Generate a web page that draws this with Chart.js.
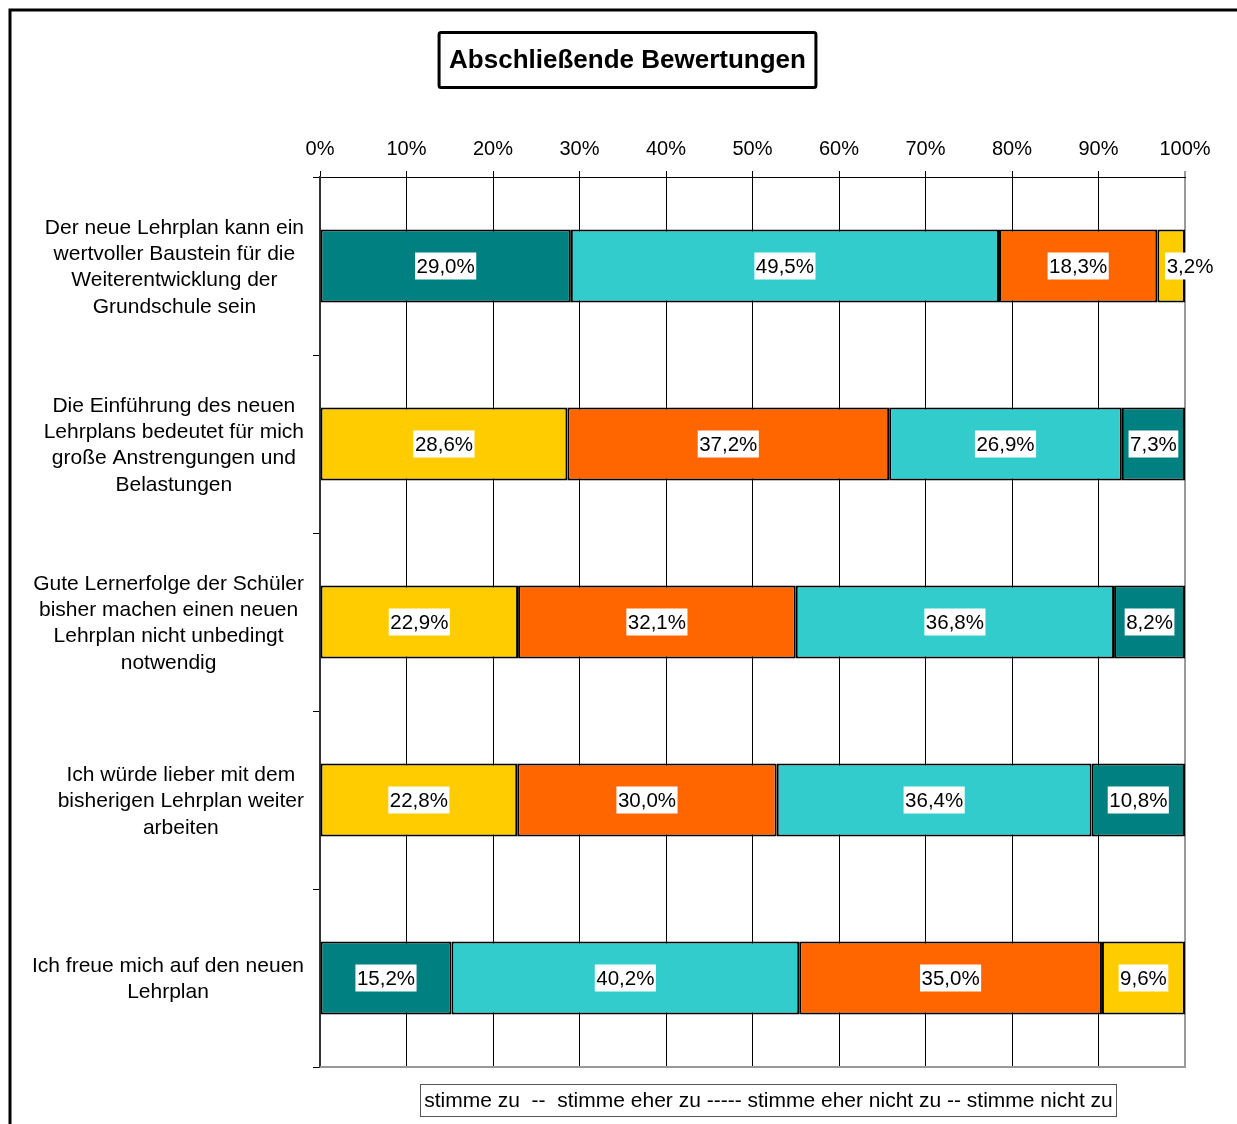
<!DOCTYPE html>
<html>
<head>
<meta charset="utf-8">
<script src="https://cdn.jsdelivr.net/npm/chart.js@4.4.0/dist/chart.umd.min.js"></script>
<style>
  html, body { margin: 0; padding: 0; background: #fff; }
  #wrap { width: 1237px; height: 1124px; position: relative; }
</style>
</head>
<body>
<div id="wrap"><canvas id="c"></canvas></div>
<script>
// ---- data ----
const titleText = 'Abschließende Bewertungen';
const legendText = 'stimme zu  --  stimme eher zu ----- stimme eher nicht zu -- stimme nicht zu';
const categories = [
  ['Der neue Lehrplan kann ein', 'wertvoller Baustein für die', 'Weiterentwicklung der', 'Grundschule sein'],
  ['Die Einführung des neuen', 'Lehrplans bedeutet für mich', 'große Anstrengungen und', 'Belastungen'],
  ['Gute Lernerfolge der Schüler', 'bisher machen einen neuen', 'Lehrplan nicht unbedingt', 'notwendig'],
  ['Ich würde lieber mit dem', 'bisherigen Lehrplan weiter', 'arbeiten'],
  ['Ich freue mich auf den neuen', 'Lehrplan']
];
const responseNames = ['stimme zu', 'stimme eher zu', 'stimme eher nicht zu', 'stimme nicht zu'];
const stimmeZu        = [29.0, 7.3, 8.2, 10.8, 15.2];
const stimmeEherZu    = [49.5, 26.9, 36.8, 36.4, 40.2];
const stimmeEherNicht = [18.3, 37.2, 32.1, 30.0, 35.0];
const stimmeNicht     = [3.2, 28.6, 22.9, 22.8, 9.6];
// items whose answer scale is shown starting with "stimme nicht zu"
const reversedOrder   = [false, true, true, true, false];
const xTickValues     = [0, 10, 20, 30, 40, 50, 60, 70, 80, 90, 100];

// ---- styles ----
const responseColors = ['#008080', '#33CCCC', '#FF6600', '#FFCC00'];
const FONT = '"Liberation Sans", Arial, Helvetica, sans-serif';

const responseValues = [stimmeZu, stimmeEherZu, stimmeEherNicht, stimmeNicht];
const fmt = v => v.toFixed(1).replace('.', ',') + '%';

// build positional stacked datasets (segment order differs per item)
const datasets = [0, 1, 2, 3].map(pos => ({
  label: 'Position ' + (pos + 1),
  data: categories.map((_, i) => {
    const r = reversedOrder[i] ? 3 - pos : pos;
    return responseValues[r][i];
  }),
  backgroundColor: categories.map((_, i) => responseColors[reversedOrder[i] ? 3 - pos : pos]),
  borderColor: '#000',
  borderWidth: 2,
  borderSkipped: false,
  categoryPercentage: 1.0,
  barPercentage: 0.41
}));

const framePlugin = {
  id: 'frame',
  beforeDraw(chart) {
    const ctx = chart.ctx;
    ctx.save();
    ctx.fillStyle = '#fff';
    ctx.fillRect(0, 0, chart.width, chart.height);
    ctx.strokeStyle = '#000';
    ctx.lineWidth = 3;
    ctx.strokeRect(10, 10, 1400, 1400);
    ctx.restore();
  },
  afterDraw(chart) {
    const ctx = chart.ctx;
    const ca = chart.chartArea;
    ctx.save();
    // bottom plot-area border
    ctx.strokeStyle = '#999';
    ctx.lineWidth = 2;
    ctx.beginPath();
    ctx.moveTo(ca.left, ca.bottom);
    ctx.lineTo(ca.right + 1, ca.bottom);
    ctx.stroke();

    // title
    ctx.font = 'bold 26px ' + FONT;
    ctx.textAlign = 'center';
    ctx.textBaseline = 'middle';
    const tw = ctx.measureText(titleText).width;
    const tcx = 627.5, tcy = 60;
    ctx.fillStyle = '#000';
    ctx.fillText(titleText, tcx, tcy + 1);
    ctx.lineWidth = 3;
    ctx.strokeStyle = '#000';
    ctx.beginPath();
    if (ctx.roundRect) ctx.roundRect(tcx - tw / 2 - 10, 32.5, tw + 20, 55, 2);
    else ctx.rect(tcx - tw / 2 - 10, 32.5, tw + 20, 55);
    ctx.stroke();

    // legend (text only)
    ctx.font = '21px ' + FONT;
    const lw = ctx.measureText(legendText).width;
    const lcx = 768.5, lcy = 1100;
    ctx.fillText(legendText, lcx, lcy + 1);
    ctx.lineWidth = 1;
    ctx.strokeStyle = '#555';
    ctx.strokeRect(Math.round(lcx - lw / 2 - 4) + 0.5, 1084.5, Math.round(lw + 8), 32);

    // category labels
    ctx.font = '21px ' + FONT;
    const ys = chart.scales.y;
    const rightEdge = ca.left - 16;
    const lh = 26.4;
    categories.forEach((lines, i) => {
      const yc = ys.getPixelForValue(i);
      const maxW = Math.max(...lines.map(l => ctx.measureText(l).width));
      const cx = rightEdge - maxW / 2;
      lines.forEach((l, k) => {
        ctx.fillText(l, cx, yc + (k - (lines.length - 1) / 2) * lh + 1.5);
      });
    });
    ctx.restore();
  }
};

const labelPlugin = {
  id: 'segLabels',
  afterDatasetsDraw(chart) {
    const ctx = chart.ctx;
    ctx.save();
    ctx.font = '20.5px ' + FONT;
    ctx.textAlign = 'center';
    ctx.textBaseline = 'middle';
    chart.data.datasets.forEach((ds, di) => {
      const meta = chart.getDatasetMeta(di);
      meta.data.forEach((bar, i) => {
        const txt = fmt(ds.data[i]);
        const left = Math.min(bar.x, bar.base), right = Math.max(bar.x, bar.base);
        const w = ctx.measureText(txt).width;
        let cx = (left + right) / 2;
        if (w + 6 > right - left) cx = right + 5;
        ctx.fillStyle = '#fff';
        ctx.fillRect(cx - w / 2 - 1.5, bar.y - 13.5, w + 3, 27);
        ctx.fillStyle = '#000';
        ctx.fillText(txt, cx, bar.y + 1);
      });
    });
    ctx.restore();
  }
};

new Chart(document.getElementById('c'), {
  type: 'bar',
  data: { labels: categories.map(l => l.join(' ')), datasets },
  options: {
    indexAxis: 'y',
    responsive: true,
    maintainAspectRatio: false,
    animation: false,
    devicePixelRatio: 1,
    layout: { padding: { left: 0, right: 52, top: 0, bottom: 57 } },
    plugins: {
      legend: { display: false },
      title: { display: false },
      tooltip: { enabled: false }
    },
    scales: {
      x: {
        position: 'top',
        stacked: true,
        min: 0,
        max: 100,
        afterBuildTicks: s => { s.ticks = xTickValues.map(v => ({ value: v })); },
        afterFit: s => { s.height = 177; },
        ticks: {
          callback: v => v + '%',
          color: '#000',
          font: { family: FONT, size: 20 },
          padding: 10,
          maxRotation: 0,
          minRotation: 0,
          autoSkip: false
        },
        grid: {
          color: c => (c.tick && c.tick.value === 100) ? '#999' : '#000',
          lineWidth: c => (c.tick && c.tick.value === 100) ? 2 : 1,
          tickLength: 6,
          drawTicks: true
        },
        border: { display: true, color: '#000', width: 1 }
      },
      y: {
        stacked: true,
        afterFit: s => { s.width = 320; },
        ticks: { display: false },
        grid: {
          offset: true,
          drawOnChartArea: false,
          drawTicks: true,
          tickLength: 7,
          color: '#000',
          lineWidth: 1
        },
        border: { display: true, color: '#333', width: 2 }
      }
    }
  },
  plugins: [framePlugin, labelPlugin]
});
</script>
</body>
</html>
